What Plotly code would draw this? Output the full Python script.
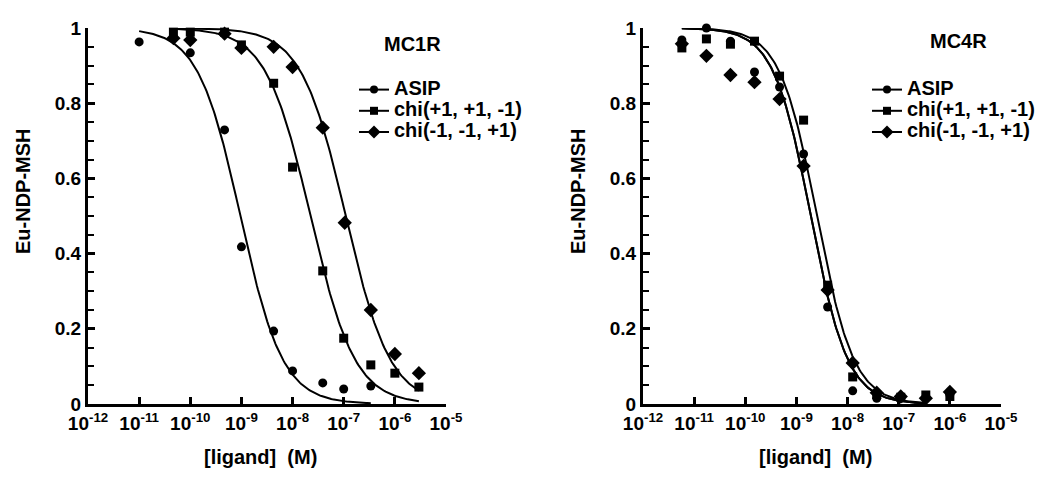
import numpy as np
import plotly.graph_objects as go

# ---------------- data (log10 of ligand concentration, M) ----------------
series_names = ["ASIP", "chi(+1, +1, -1)", "chi(-1, -1, +1)"]
series_symbols = ["circle", "square", "diamond"]

# MC1R panel
mc1r_asip_logx = [-11.0, -10.0, -9.33, -9.0, -8.37, -8.0, -7.41, -7.0, -6.47]
mc1r_asip_y = [0.963, 0.934, 0.729, 0.418, 0.194, 0.088, 0.056, 0.040, 0.048]
mc1r_chip_logx = [-10.33, -10.0, -9.33, -9.0, -8.37, -8.0, -7.41, -7.0, -6.47, -6.0, -5.53]
mc1r_chip_y = [0.989, 0.989, 0.989, 0.955, 0.853, 0.630, 0.354, 0.175, 0.104, 0.082, 0.045]
mc1r_chim_logx = [-10.33, -10.0, -9.33, -9.0, -8.37, -8.0, -7.41, -6.98, -6.47, -6.0, -5.53]
mc1r_chim_y = [0.973, 0.968, 0.985, 0.947, 0.950, 0.896, 0.735, 0.482, 0.250, 0.133, 0.082]

# MC4R panel
mc4r_logx = [-11.24, -10.76, -10.29, -9.82, -9.33, -8.86, -8.39, -7.90, -7.43, -6.96, -6.47, -6.0]
mc4r_asip_y = [0.968, 1.000, 0.965, 0.883, 0.843, 0.665, 0.258, 0.035, 0.015, 0.015, 0.015, 0.025]
mc4r_chip_y = [0.947, 0.971, 0.957, 0.965, 0.872, 0.755, 0.316, 0.072, 0.025, 0.018, 0.024, 0.020]
mc4r_chim_y = [0.958, 0.926, 0.875, 0.856, 0.811, 0.633, 0.303, 0.109, 0.030, 0.020, 0.015, 0.032]

# fitted one-site competition curves: logIC50, Hill slope, log-x span
mc1r_fit_logic50 = [-9.02, -7.65, -6.96]
mc1r_fit_hill = [1.05, 1.0, 1.0]
mc1r_fit_span = [(-11.0, -6.47), (-10.33, -5.53), (-10.33, -5.53)]
mc4r_fit_logic50 = [-8.72, -8.60, -8.72]
mc4r_fit_hill = [1.2, 1.2, 1.2]
mc4r_fit_span = [(-11.24, -6.47), (-11.24, -6.47), (-11.24, -6.47)]

tick_exps = [-12, -11, -10, -9, -8, -7, -6, -5]
tick_text = ["10<sup>%d</sup>" % e for e in tick_exps]

# ---------------- figure ----------------
FONT = "Liberation Sans, Arial, sans-serif"
W, H = 1050, 488
fig = go.Figure()

panels = [
    dict(x="x", y="y", legend="legend",
         data=[(mc1r_asip_logx, mc1r_asip_y), (mc1r_chip_logx, mc1r_chip_y), (mc1r_chim_logx, mc1r_chim_y)],
         fit=(mc1r_fit_logic50, mc1r_fit_hill, mc1r_fit_span)),
    dict(x="x2", y="y2", legend="legend2",
         data=[(mc4r_logx, mc4r_asip_y), (mc4r_logx, mc4r_chip_y), (mc4r_logx, mc4r_chim_y)],
         fit=(mc4r_fit_logic50, mc4r_fit_hill, mc4r_fit_span)),
]

msizes = {"circle": 9, "square": 9, "diamond": 11}

for p in panels:
    logic50, hill, span = p["fit"]
    for i in range(3):
        lx = np.linspace(span[i][0], span[i][1], 200)
        yy = 1.0 / (1.0 + 10 ** ((lx - logic50[i]) * hill[i]))
        fig.add_trace(go.Scatter(x=10 ** lx, y=yy, mode="lines",
                                 line=dict(color="black", width=2),
                                 xaxis=p["x"], yaxis=p["y"], showlegend=False, hoverinfo="skip"))
    for i, (lx, yv) in enumerate(p["data"]):
        fig.add_trace(go.Scatter(x=[10 ** v for v in lx], y=yv, mode="markers",
                                 marker=dict(symbol=series_symbols[i], size=msizes[series_symbols[i]],
                                             color="black", line=dict(width=0)),
                                 cliponaxis=False,
                                 xaxis=p["x"], yaxis=p["y"], showlegend=False))
    for i in range(3):
        fig.add_trace(go.Scatter(x=[None], y=[None], mode="lines+markers",
                                 name='<span style="font-size:20px">%s</span>' % series_names[i],
                                 line=dict(color="black", width=2),
                                 marker=dict(symbol=series_symbols[i], size=msizes[series_symbols[i]] - 1,
                                             color="black"),
                                 xaxis=p["x"], yaxis=p["y"], legend=p["legend"]))

def px_x(v):
    return v / W

def px_y(v):
    return (H - v) / H

xcommon = dict(type="log", range=[-12, -5], tickvals=[10.0 ** e for e in tick_exps], ticktext=tick_text,
               showline=True, linewidth=3, linecolor="black", ticks="inside", ticklen=7, tickwidth=3,
               tickcolor="black", showgrid=False, zeroline=False, automargin=False,
               tickfont=dict(family=FONT, size=19, color="black", weight="bold"))
ycommon = dict(range=[0, 1], tickvals=[0, 0.2, 0.4, 0.6, 0.8, 1.0], ticktext=["0", "0.2", "0.4", "0.6", "0.8", "1"],
               showline=True, linewidth=3, linecolor="black", ticks="inside", ticklen=7, tickwidth=3,
               tickcolor="black", showgrid=False, zeroline=False, automargin=False,
               minor=dict(tickvals=[0.05, 0.1, 0.15, 0.25, 0.3, 0.35, 0.45, 0.5, 0.55, 0.65, 0.7, 0.75, 0.85, 0.9, 0.95],
                          ticks="inside", ticklen=6, tickwidth=2, tickcolor="black"),
               tickfont=dict(family=FONT, size=19, color="black", weight="bold"))

ydom = [px_y(404), px_y(28)]
lfont = dict(family=FONT, size=14, color="black", weight="bold")
fig.update_layout(
    width=W, height=H, margin=dict(l=0, r=0, t=0, b=0, pad=0, autoexpand=False),
    paper_bgcolor="white", plot_bgcolor="white",
    xaxis=dict(domain=[px_x(88), px_x(446)], anchor="y", **xcommon),
    yaxis=dict(domain=ydom, anchor="x", **ycommon),
    xaxis2=dict(domain=[px_x(643), px_x(1001)], anchor="y2", **xcommon),
    yaxis2=dict(domain=ydom, anchor="x2", **ycommon),
    legend=dict(x=px_x(354), y=px_y(74), xanchor="left", yanchor="top", bgcolor="rgba(0,0,0,0)",
                font=lfont, tracegroupgap=0),
    legend2=dict(x=px_x(867), y=px_y(74), xanchor="left", yanchor="top", bgcolor="rgba(0,0,0,0)",
                 font=lfont, tracegroupgap=0),
    showlegend=True,
)

tfont = dict(family=FONT, size=20, color="black", weight="bold")
annos = [
    dict(text="MC1R", x=px_x(412), y=px_y(44)),
    dict(text="MC4R", x=px_x(958), y=px_y(41)),
    dict(text="[ligand]\u00a0\u00a0(M)", x=px_x(260), y=px_y(457)),
    dict(text="[ligand]\u00a0\u00a0(M)", x=px_x(815), y=px_y(457)),
    dict(text="Eu-NDP-MSH", x=px_x(23), y=px_y(191), textangle=-90),
    dict(text="Eu-NDP-MSH", x=px_x(578), y=px_y(191), textangle=-90),
]
for a in annos:
    fig.add_annotation(xref="paper", yref="paper", showarrow=False, xanchor="center", yanchor="middle",
                       font=tfont, **a)

fig.write_html("out.html", config={"displayModeBar": False},
               post_script="document.body.style.margin='0';")
